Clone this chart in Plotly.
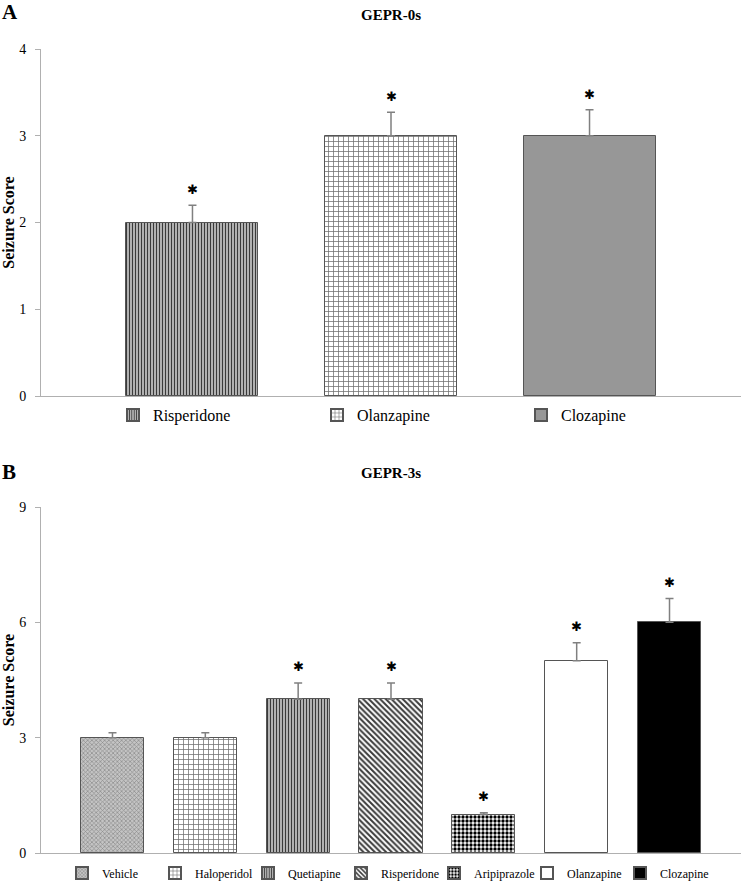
import plotly.graph_objects as go

# ---------------- data ----------------
a_drugs = ["Risperidone", "Olanzapine", "Clozapine"]
a_scores = [2.0, 3.0, 3.0]
a_err = [0.2, 0.27, 0.3]
a_sig = [True, True, True]

b_drugs = ["Vehicle", "Haloperidol", "Quetiapine", "Risperidone",
           "Aripiprazole", "Olanzapine", "Clozapine"]
b_scores = [3.0, 3.0, 4.0, 4.0, 1.0, 5.0, 6.0]
b_err = [0.13, 0.13, 0.42, 0.42, 0.05, 0.47, 0.62]
b_sig = [False, False, True, True, True, True, True]

a_ticks = [0, 1, 2, 3, 4]
b_ticks = [0, 3, 6, 9]

# ---------------- styles ----------------
SERIF = "Liberation Serif, Times New Roman, serif"
a_styles = [
    dict(color="#d0d0d0", pattern=dict(shape="|", fgcolor="#3a3a3a", bgcolor="#d8d8d8", size=3, solidity=0.5)),
    dict(color="white", pattern=dict(shape="+", fgcolor="#707070", bgcolor="white", size=5, solidity=0.28)),
    dict(color="#979797", pattern=None),
]
b_styles = [
    dict(color="#aaaaaa", pattern=dict(shape="x", fgcolor="#8a8a8a", bgcolor="#c4c4c4", size=3, solidity=0.4)),
    dict(color="white", pattern=dict(shape="+", fgcolor="#707070", bgcolor="white", size=5, solidity=0.28)),
    dict(color="#d0d0d0", pattern=dict(shape="|", fgcolor="#3a3a3a", bgcolor="#d8d8d8", size=3, solidity=0.5)),
    dict(color="white", pattern=dict(shape="\\", fgcolor="#3a3a3a", bgcolor="white", size=4, solidity=0.5)),
    dict(color="white", pattern=dict(shape=".", fgcolor="#000000", bgcolor="white", size=4, solidity=0.55)),
    dict(color="white", pattern=None),
    dict(color="black", pattern=None),
]

fig = go.Figure()

def add_bars(drugs, scores, errs, styles, xa, ya, legend, width):
    for d, s, e, st in zip(drugs, scores, errs, styles):
        marker = dict(color=st["color"], line=dict(color="#555555", width=1))
        if st["pattern"] is not None:
            marker["pattern"] = st["pattern"]
        fig.add_trace(go.Bar(
            x=[d], y=[s], name=d, width=width, marker=marker,
            xaxis=xa, yaxis=ya, legend=legend,
            error_y=dict(type="data", array=[e], arrayminus=[0], symmetric=False,
                         color="#808080", thickness=1.5, width=4),
        ))

add_bars(a_drugs, a_scores, a_err, a_styles, "x", "y", "legend", 0.665)
add_bars(b_drugs, b_scores, b_err, b_styles, "x2", "y2", "legend2", 0.68)

annotations = []
for d, s, e, g in zip(a_drugs, a_scores, a_err, a_sig):
    if g:
        annotations.append(dict(x=d, y=s + e, xref="x", yref="y", text="✱", showarrow=False,
                                yshift=16, font=dict(size=13, color="black")))
for d, s, e, g in zip(b_drugs, b_scores, b_err, b_sig):
    if g:
        annotations.append(dict(x=d, y=s + e, xref="x2", yref="y2", text="✱", showarrow=False,
                                yshift=17, font=dict(size=13, color="black")))

annotations += [
    dict(x=0.527, y=1 - 15 / 885, xref="paper", yref="paper", text="<b>GEPR-0s</b>",
         xanchor="center", yanchor="middle",
         showarrow=False, font=dict(family=SERIF, size=15, color="black")),
    dict(x=0.527, y=1 - 473 / 885, xref="paper", yref="paper", text="<b>GEPR-3s</b>",
         xanchor="center", yanchor="middle",
         showarrow=False, font=dict(family=SERIF, size=15, color="black")),
    dict(x=0.0, y=1 - 12 / 885, xref="paper", yref="paper", text="<b>A</b>", xanchor="left", yanchor="middle",
         showarrow=False, font=dict(family=SERIF, size=21, color="black")),
    dict(x=0.0, y=1 - 472 / 885, xref="paper", yref="paper", text="<b>B</b>", xanchor="left", yanchor="middle",
         showarrow=False, font=dict(family=SERIF, size=21, color="black")),
]

yax_common = dict(showgrid=False, zeroline=False, showline=True, linecolor="#b0b0b0", linewidth=1,
                  ticks="outside", ticklen=5, tickcolor="#b0b0b0", ticklabelstandoff=6, automargin=False,
                  tickfont=dict(family=SERIF, size=14, color="black"),
                  title=dict(text="<b>Seizure Score</b>", font=dict(family=SERIF, size=16, color="black"), standoff=3))
xax_common = dict(showgrid=False, zeroline=False, showline=True, linecolor="#b0b0b0", linewidth=1,
                  showticklabels=False, ticks="", type="category", automargin=False)

fig.update_layout(
    template="none",
    width=742, height=885, margin=dict(l=0, r=0, t=0, b=0, autoexpand=False),
    paper_bgcolor="white", plot_bgcolor="white", showlegend=True,
    bargap=0, barmode="overlay",
    xaxis=dict(domain=[41 / 742, 741 / 742], anchor="y", range=[-0.763, 2.763],
               categoryorder="array", categoryarray=a_drugs, **xax_common),
    yaxis=dict(domain=[1 - 396 / 885, 1 - 49 / 885], anchor="x", range=[0, 4], tickvals=a_ticks, **yax_common),
    xaxis2=dict(domain=[41 / 742, 741 / 742], anchor="y2", range=[-0.77, 6.77],
                categoryorder="array", categoryarray=b_drugs, **xax_common),
    yaxis2=dict(domain=[1 - 853 / 885, 1 - 507 / 885], anchor="x2", range=[0, 9], tickvals=b_ticks, **yax_common),
    legend=dict(orientation="h", x=113 / 742, xanchor="left", y=1 - 415 / 885, yanchor="middle",
                font=dict(family=SERIF, size=16, color="black"), entrywidth=159, entrywidthmode="pixels",
                itemsizing="constant", bgcolor="rgba(0,0,0,0)", traceorder="normal"),
    legend2=dict(orientation="h", x=62 / 742, xanchor="left", y=1 - 873 / 885, yanchor="middle",
                 font=dict(family=SERIF, size=12, color="black"), entrywidth=48, entrywidthmode="pixels",
                 itemsizing="constant", bgcolor="rgba(0,0,0,0)", traceorder="normal"),
    annotations=annotations,
)

fig.write_html("out.html", config={"displayModeBar": False},
               post_script="document.body.style.margin='0';document.body.style.overflow='hidden';")
